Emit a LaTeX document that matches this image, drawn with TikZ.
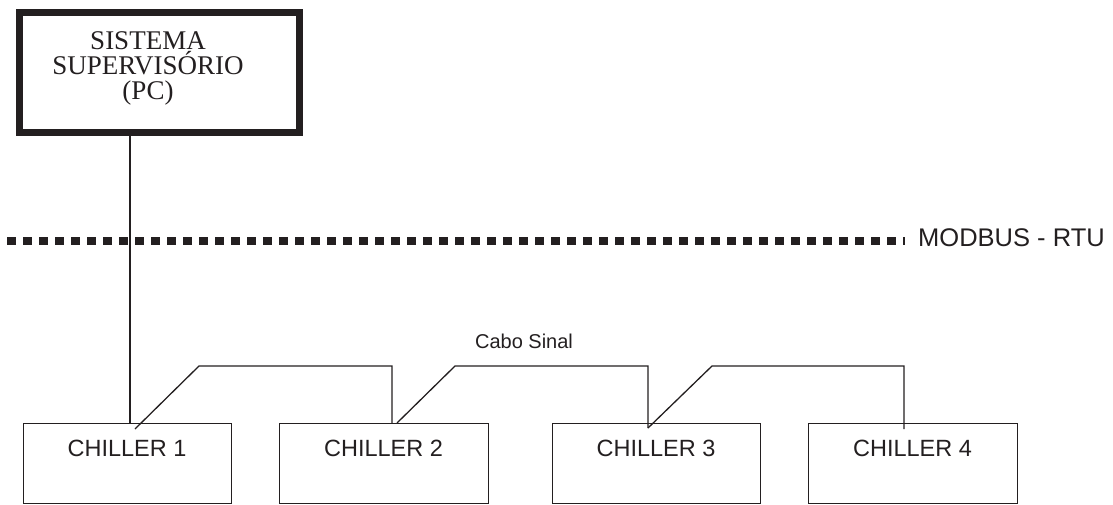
\documentclass[tikz,border=0pt]{standalone}
\usepackage{fontspec}
\setmainfont{Liberation Serif}
\setsansfont{Liberation Sans}
\definecolor{ink}{HTML}{231F20}
\begin{document}
\begin{tikzpicture}[x=1pt,y=-1pt,
  chiller/.style={draw=ink,line width=1.4pt,minimum width=208pt,minimum height=80pt,inner sep=0pt,anchor=north west},
  chtext/.style={font=\sffamily\fontsize{23.5}{26}\selectfont,text=ink,anchor=base,inner sep=0pt},
  wire/.style={draw=ink,line width=1.3pt,line join=miter},
  bus/.style={draw=ink,line width=8.7pt,dash pattern=on 8.7pt off 7.3pt}]
\useasboundingbox (0,0) rectangle (1113,505);
% supervisory PC
\node[draw=ink,line width=7pt,minimum width=280pt,minimum height=120.5pt,inner sep=0pt,anchor=north west] (pc) at (15.5,9) {};
\node[align=center,text=ink,font=\fontsize{27}{25}\selectfont,inner sep=0pt,anchor=base] (pctext) at (148,100) {SISTEMA\\SUPERVISÓRIO\\(PC)};
% chillers
\node[chiller] (c1) at (23,423) {};
\node[chiller,minimum width=209pt] (c2) at (279,423) {};
\node[chiller] (c3) at (552,423) {};
\node[chiller,minimum width=209pt] (c4) at (808,423) {};
\node[chtext] (t1) at (127,456) {CHILLER 1};
\node[chtext] (t2) at (383.5,456) {CHILLER 2};
\node[chtext] (t3) at (656,456) {CHILLER 3};
\node[chtext] (t4) at (912.5,456) {CHILLER 4};
% bus
\coordinate (busL) at (7,241);
\coordinate (busR) at (905,241);
\draw[bus] (busL) -- (busR);
\node[font=\sffamily\fontsize{25.5}{28}\selectfont,text=ink,anchor=base west,inner sep=0pt] (modbus) at (918,246) {MODBUS - RTU};
% PC link
\coordinate (pcdown) at (130,129.5);
\coordinate (c1up) at (130,423);
\draw[wire] (pcdown) -- (c1up);
% signal cable
\node[font=\sffamily\fontsize{20}{22}\selectfont,text=ink,anchor=base,inner sep=0pt] (cabo) at (524,348) {Cabo Sinal};
\coordinate (a1) at (135,429);
\coordinate (a2) at (199,366);
\coordinate (a3) at (392,366);
\coordinate (a4) at (392,423);
\coordinate (b1) at (397,423);
\coordinate (b2) at (455,366);
\coordinate (b3) at (648,366);
\coordinate (b4) at (648,428);
\coordinate (d2) at (712,366);
\coordinate (d3) at (904,366);
\coordinate (d4) at (904,429);
\draw[wire] (a1) -- (a2) -- (a3) -- (a4);
\draw[wire] (b1) -- (b2) -- (b3) -- (b4);
\draw[wire] (b4) -- (d2) -- (d3) -- (d4);
\end{tikzpicture}
\end{document}
